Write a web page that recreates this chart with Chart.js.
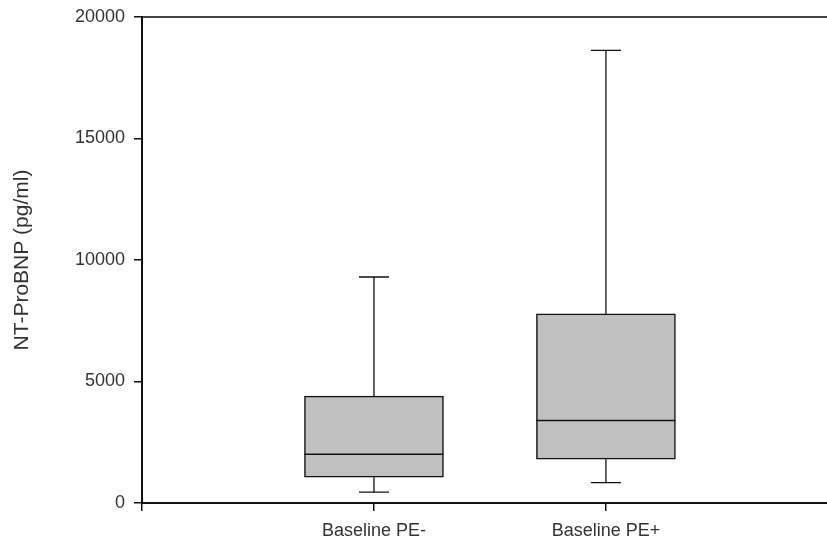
<!DOCTYPE html>
<html>
<head>
<meta charset="utf-8">
<script src="https://cdn.jsdelivr.net/npm/chart.js@4/dist/chart.umd.min.js"></script>
<style>
  body { margin: 0; background: #fff; }
  #wrap { width: 827px; height: 544px; }
</style>
</head>
<body>
<div id="wrap"><canvas id="myChart" width="827" height="544"></canvas></div>
<script>
// box plot values (pg/ml)
const categories = ["Baseline PE-", "Baseline PE+"];
const whiskerLow = [450, 840];
const quartile1 = [1060, 1800];
const medians = [2010, 3400];
const quartile3 = [4400, 7780];
const whiskerHigh = [9300, 18630];
const yTicks = [0, 5000, 10000, 15000, 20000];

const boxFill = "#c0c0c0";
const lineColor = "#111";
const textColor = "#333";
const fontFamily = "'Liberation Sans', Arial, sans-serif";

// whiskers, caps and median lines drawn through the chart scales
const boxPlotLines = {
  id: "boxPlotLines",
  afterDatasetsDraw(chart) {
    const ctx = chart.ctx;
    const xs = chart.scales.x;
    const ys = chart.scales.y;
    const meta = chart.getDatasetMeta(0);
    ctx.save();
    ctx.strokeStyle = lineColor;
    categories.forEach((c, i) => {
      const x = xs.getPixelForValue(i + 1);
      const half = meta.data[i].width / 2;
      const cap = 15;
      const yLo = ys.getPixelForValue(whiskerLow[i]);
      const yQ1 = ys.getPixelForValue(quartile1[i]);
      const yMed = ys.getPixelForValue(medians[i]);
      const yQ3 = ys.getPixelForValue(quartile3[i]);
      const yHi = ys.getPixelForValue(whiskerHigh[i]);
      ctx.lineWidth = 1.3;
      ctx.beginPath();
      ctx.moveTo(x, yQ3); ctx.lineTo(x, yHi);
      ctx.moveTo(x - cap, yHi); ctx.lineTo(x + cap, yHi);
      ctx.moveTo(x, yQ1); ctx.lineTo(x, yLo);
      ctx.moveTo(x - cap, yLo); ctx.lineTo(x + cap, yLo);
      ctx.stroke();
      ctx.lineWidth = 1.5;
      ctx.beginPath();
      ctx.moveTo(x - half, yMed); ctx.lineTo(x + half, yMed);
      ctx.stroke();
    });
    ctx.restore();
  }
};

function start() {
  const ctx = document.getElementById("myChart");
  const boxes = categories.map((c, i) => ({ x: i + 1, y: [quartile1[i], quartile3[i]] }));

  new Chart(ctx, {
    type: "bar",
    data: {
      datasets: [
        {
          data: boxes,
          backgroundColor: boxFill,
          borderColor: lineColor,
          borderWidth: 1.5,
          borderSkipped: false,
          barThickness: 139,
        },
      ],
    },
    options: {
      responsive: false,
      animation: false,
      layout: { padding: { top: 17, left: 0, right: 0, bottom: 0 } },
      plugins: { legend: { display: false }, tooltip: { enabled: false } },
      scales: {
        x: {
          type: "linear",
          position: "bottom",
          offset: false,
          min: 0,
          max: 2.953,
          afterBuildTicks: axis => { axis.ticks = [0, 1, 2].map(v => ({ value: v })); },
          afterFit: axis => { axis.height = 41; axis.paddingLeft = 0; axis.paddingRight = 0; },
          ticks: {
            autoSkip: false,
            maxRotation: 0,
            color: textColor,
            font: { family: fontFamily, size: 18 },
            padding: 9,
            callback: v => (v >= 1 ? categories[v - 1] : ""),
          },
          grid: { offset: false, drawOnChartArea: false, drawTicks: true, tickLength: 8, color: lineColor, lineWidth: 1.5 },
          border: { display: true, color: lineColor, width: 2 },
        },
        xTop: {
          type: "linear",
          position: "top",
          offset: false,
          min: 0,
          max: 2.953,
          afterFit: axis => { axis.height = 0; axis.paddingLeft = 0; axis.paddingRight = 0; },
          ticks: { display: false },
          grid: { display: false, drawTicks: false },
          border: { display: true, color: "#444", width: 2 },
        },
        y: {
          min: 0,
          max: 20000,
          afterBuildTicks: axis => { axis.ticks = yTicks.map(v => ({ value: v })); },
          afterFit: axis => { axis.width = 142; axis.paddingTop = 0; axis.paddingBottom = 0; },
          ticks: {
            color: textColor,
            font: { family: fontFamily, size: 18 },
            padding: 9,
            callback: v => String(v),
          },
          grid: { drawOnChartArea: false, drawTicks: true, tickLength: 8, color: lineColor, lineWidth: 1.5 },
          border: { display: true, color: lineColor, width: 2 },
          title: {
            display: true,
            text: "NT-ProBNP (pg/ml)",
            color: textColor,
            font: { family: fontFamily, size: 21 },
            padding: { top: 10 },
          },
        },
      },
    },
    plugins: [boxPlotLines],
  });
}

start();
</script>
</body>
</html>
